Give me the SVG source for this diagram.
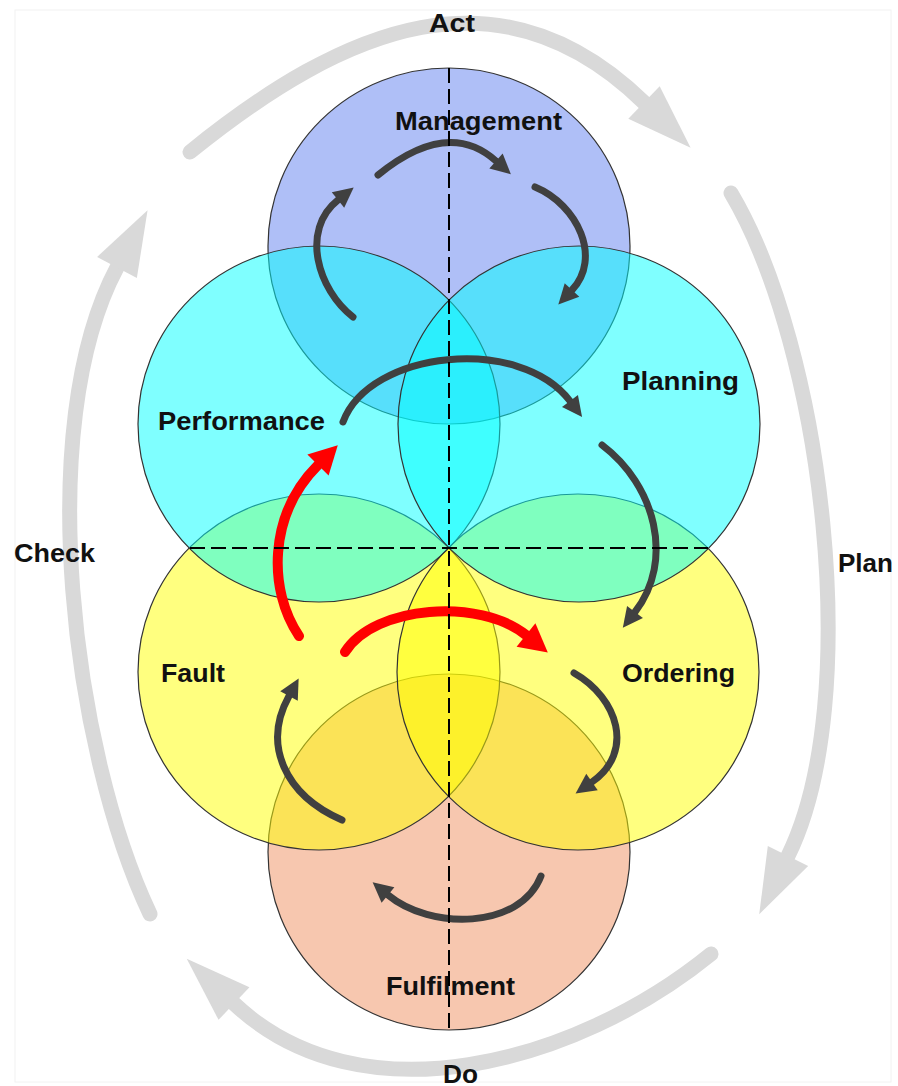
<svg xmlns="http://www.w3.org/2000/svg" width="898" height="1086" viewBox="0 0 898 1086">
<defs>
<style>
.c{stroke:#333;stroke-width:1.2;fill-opacity:.5}
.lbl{font-family:"Liberation Sans",Arial,sans-serif;font-weight:bold;font-size:25px;fill:#111}
.gray{fill:none;stroke:#d9d9d9;stroke-width:15;stroke-linecap:round;marker-end:url(#ahG)}
.dark{fill:none;stroke:#404040;stroke-width:7;stroke-linecap:round;marker-end:url(#ahD)}
.red{fill:none;stroke:#ff0000;stroke-width:10;stroke-linecap:round;marker-end:url(#ahR)}
.axis{stroke:#000;stroke-width:2;stroke-dasharray:15 6;fill:none}
</style>
<marker id="ahG" markerUnits="userSpaceOnUse" markerWidth="70" markerHeight="50" viewBox="0 -25 70 50" refX="0" refY="0" orient="auto" overflow="visible"><path d="M0,-22.5 L65,0 L0,22.5 Z" fill="#d9d9d9"/></marker>
<marker id="ahD" markerUnits="userSpaceOnUse" markerWidth="24" markerHeight="24" viewBox="0 -12 24 24" refX="0" refY="0" orient="auto" overflow="visible"><path d="M0,-10 L20,0 L0,10 Z" fill="#404040"/></marker>
<marker id="ahR" markerUnits="userSpaceOnUse" markerWidth="32" markerHeight="34" viewBox="0 -17 32 34" refX="0" refY="0" orient="auto" overflow="visible"><path d="M0,-15 L28,0 L0,15 Z" fill="#ff0000"/></marker>
</defs>
<rect x="0" y="0" width="898" height="1086" fill="#fff"/>
<rect x="15" y="10" width="876" height="1072" fill="none" stroke="#f2f2f2" stroke-width="1"/>

<g id="management"><ellipse class="c" cx="449" cy="246" rx="181" ry="178" fill="#6080f0"/><text class="lbl" x="395" y="130" textLength="167" lengthAdjust="spacingAndGlyphs">Management</text></g>
<g id="fulfilment"><ellipse class="c" cx="449" cy="852" rx="181" ry="178" fill="#f09060"/><text class="lbl" x="386" y="995" textLength="129" lengthAdjust="spacingAndGlyphs">Fulfilment</text></g>
<g id="fault"><ellipse class="c" cx="319" cy="672" rx="181" ry="178" fill="#ffff00"/><text class="lbl" x="161" y="682" textLength="64" lengthAdjust="spacingAndGlyphs">Fault</text></g>
<g id="ordering"><ellipse class="c" cx="578" cy="672" rx="181" ry="178" fill="#ffff00"/><text class="lbl" x="622" y="682" textLength="113" lengthAdjust="spacingAndGlyphs">Ordering</text></g>
<g id="performance"><ellipse class="c" cx="319" cy="424" rx="181" ry="178" fill="#00ffff"/><text class="lbl" x="158" y="430" textLength="167" lengthAdjust="spacingAndGlyphs">Performance</text></g>
<g id="planning"><ellipse class="c" cx="579" cy="424" rx="181" ry="178" fill="#00ffff"/><text class="lbl" x="622" y="390" textLength="117" lengthAdjust="spacingAndGlyphs">Planning</text></g>

<g id="connectors">
<path class="gray" d="M190,152 C345.6,26 500,-37.5 644,102.5"/>
<path class="gray" d="M731,193 C823,348 865,700 788,856"/>
<path class="gray" d="M711,954 C575.4,1064.25 360,1122.5 234,1003.5"/>
<path class="gray" d="M150,914 C73,752 32,427 117,267.5"/>
<path class="dark" d="M378,175 Q448,118 496,161"/>
<path class="dark" d="M535,187 C578,205 602,258 572,290"/>
<path class="dark" d="M353,317 C318,290 300,230 338,200"/>
<path class="dark" d="M343,422 C370,350 520,335 570,401"/>
<path class="dark" d="M602,445 C655,485 675,560 635,612"/>
<path class="dark" d="M574,673 C618,698 635,752 592,782"/>
<path class="dark" d="M342,820 C285,795 262,745 289,696"/>
<path class="dark" d="M541,876 C520,930 430,930 388,895"/>
<path class="red" d="M299,636 C268,590 268,515 318,465"/>
<path class="red" d="M345,652 C375,605 480,598 526,635"/>
</g>

<g id="axes">
<path class="axis" d="M449,68 V1030"/>
<path class="axis" d="M190,548 H708"/>
</g>

<g id="label-act"><text class="lbl" x="429" y="32" textLength="46" lengthAdjust="spacingAndGlyphs">Act</text></g>
<g id="label-plan"><text class="lbl" x="838" y="572" textLength="55" lengthAdjust="spacingAndGlyphs">Plan</text></g>
<g id="label-do"><text class="lbl" x="443" y="1083" textLength="35" lengthAdjust="spacingAndGlyphs">Do</text></g>
<g id="label-check"><text class="lbl" x="14" y="562" textLength="81" lengthAdjust="spacingAndGlyphs">Check</text></g>
</svg>
